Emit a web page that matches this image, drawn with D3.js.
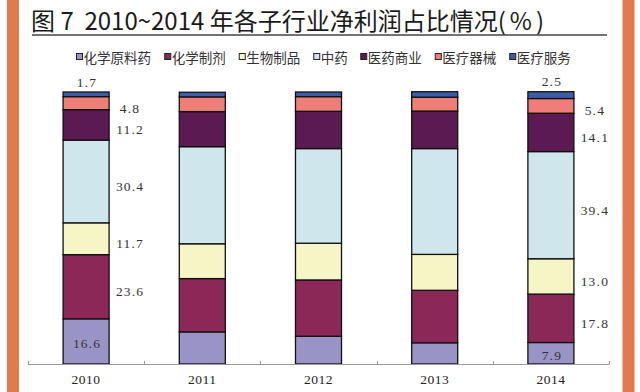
<!DOCTYPE html>
<html><head><meta charset="utf-8">
<script src="https://cdn.jsdelivr.net/npm/d3@7"></script>
<style>html,body{margin:0;padding:0;background:#fff;}svg{display:block;}</style>
</head><body>
<script>
const years = ["2010", "2011", "2012", "2013", "2014"];
const seriesNames = ["化学原料药", "化学制剂", "生物制品", "中药", "医药商业", "医疗器械", "医疗服务"];
const seriesColors = ["#9A93C6", "#8C2858", "#F5F5C6", "#CEE6EC", "#5B1A52", "#F07E78", "#3D5DA8"];
const rawMaterials = [16.6, 11.8, 10.2, 7.8, 7.9];
const formulations = [23.6, 19.6, 20.7, 19.3, 17.8];
const biologics = [11.7, 12.8, 13.5, 13.2, 13.0];
const tcm = [30.4, 35.7, 34.8, 38.9, 39.4];
const commerce = [11.2, 12.9, 13.7, 13.8, 14.1];
const devices = [4.8, 5.4, 5.4, 5.1, 5.4];
const services = [1.7, 1.7, 1.7, 2.0, 2.5];
const labelYears = ["2010", "2014"];
const titleMain = "图 7  2010~2014 年各子行业净利润占比情况(";

const seriesValues = [rawMaterials, formulations, biologics, tcm, commerce, devices, services];
const table = years.map((y, i) => {
  const row = {year: y};
  seriesNames.forEach((s, k) => row[s] = seriesValues[k][i]);
  return row;
});

const W = 640, H = 392;
const svg = d3.select("body").append("svg").attr("width", W).attr("height", H);
svg.append("rect").attr("width", W).attr("height", H).attr("fill", "#fff");

// orange side strips
svg.append("rect").attr("x", 7).attr("y", 0).attr("width", 12).attr("height", H).attr("fill", "#E27A4E");
svg.append("rect").attr("x", 622.5).attr("y", 0).attr("width", 12).attr("height", H).attr("fill", "#E27A4E");

// title
const title = svg.append("text").attr("x", 31).attr("y", 30)
  .attr("font-family", "'Noto Sans CJK SC', 'Noto Sans', sans-serif")
  .attr("font-size", 24).attr("fill", "#1a1a1a").style("white-space", "pre");
title.append("tspan").text(titleMain);
title.append("tspan").attr("dx", 4).text("%");
title.append("tspan").attr("dx", 4).text(")");
svg.append("line").attr("x1", 32).attr("x2", 607).attr("y1", 35).attr("y2", 35)
  .attr("stroke", "#444").attr("stroke-width", 1.5);

// legend
const lg = svg.append("g");
let lx = 76;
seriesNames.forEach((s, k) => {
  const g = lg.append("g").attr("transform", `translate(${lx},0)`);
  g.append("rect").attr("x", 0.5).attr("y", 53.5).attr("width", 6).attr("height", 6)
    .attr("fill", seriesColors[k]).attr("stroke", "#222").attr("stroke-width", 1);
  g.append("text").attr("x", 7.5).attr("y", 57).attr("dominant-baseline", "central")
    .attr("font-family", "'Noto Sans CJK SC', sans-serif").attr("font-size", 13.5)
    .attr("fill", "#333").text(s);
  lx += 19.5 + s.length * 13.75;
});

// scales
const x = d3.scaleBand().domain(years).range([28, 609]).paddingInner(0.604).paddingOuter(0.302);
const y = d3.scaleLinear().domain([0, 100]).range([364, 92]);

const stack = d3.stack().keys(seriesNames);
const layers = stack(table);

const gBars = svg.append("g");
layers.forEach((layer, k) => {
  gBars.selectAll(null).data(layer).enter().append("rect")
    .attr("x", d => x(d.data.year))
    .attr("width", x.bandwidth())
    .attr("y", d => y(d[1]))
    .attr("height", d => y(d[0]) - y(d[1]))
    .attr("fill", seriesColors[k])
    .attr("stroke", "#111").attr("stroke-width", 1.3);
});

// axis
const axisY = 364;
svg.append("line").attr("x1", 28).attr("x2", 609).attr("y1", axisY + 0.5).attr("y2", axisY + 0.5)
  .attr("stroke", "#999").attr("stroke-width", 1);
const step = x.step();
d3.range(years.length + 1).forEach(i => {
  const tx = Math.round(28 + i * step) + 0.5;
  svg.append("line").attr("x1", tx).attr("x2", tx).attr("y1", axisY - 3).attr("y2", axisY + 0.5)
    .attr("stroke", "#999").attr("stroke-width", 1);
});
svg.append("g").selectAll("text").data(years).enter().append("text")
  .attr("x", d => x(d) + x.bandwidth() / 2).attr("y", 379)
  .attr("text-anchor", "middle").attr("dominant-baseline", "central")
  .attr("font-family", "'Liberation Serif', 'DejaVu Serif', serif").attr("font-size", 13.5)
  .attr("fill", "#222").attr("letter-spacing", 0.5).text(d => d);

// data labels
const gl = svg.append("g").attr("font-family", "'Liberation Serif', 'DejaVu Serif', serif")
  .attr("font-size", 13.5).attr("fill", "#333").attr("letter-spacing", 1.2);
layers.forEach((layer, k) => {
  layer.filter(d => labelYears.includes(d.data.year)).forEach(d => {
    const cx = x(d.data.year) + x.bandwidth() / 2;
    const v = d[1] - d[0];
    let lxp, lyp;
    if (k === layers.length - 1) { lxp = cx + 1; lyp = y(d[1]) - 10; }
    else if (k === 0) { lxp = cx + 1; lyp = (y(d[0]) + y(d[1])) / 2 + 2; }
    else { lxp = cx + 44; lyp = (y(d[0]) + y(d[1])) / 2 + 5; }
    gl.append("text").attr("x", lxp).attr("y", lyp)
      .attr("text-anchor", "middle").attr("dominant-baseline", "central")
      .text(v.toFixed(1));
  });
});
</script>
</body></html>
